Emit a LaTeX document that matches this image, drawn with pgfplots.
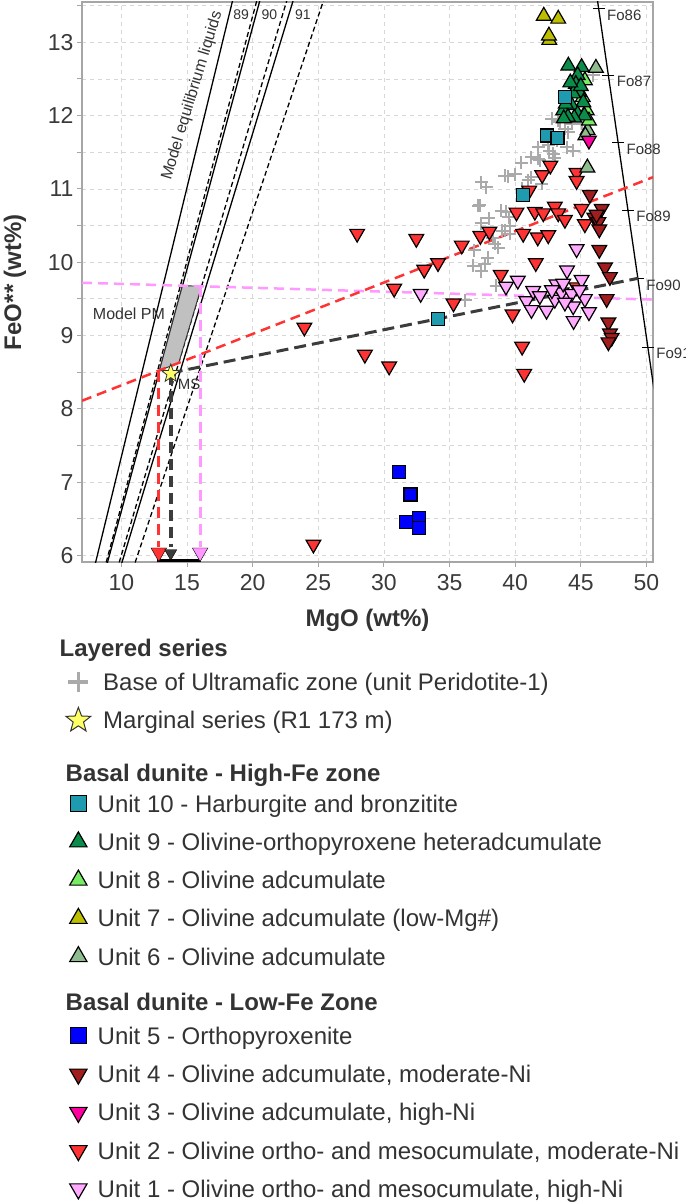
\documentclass[border=0pt]{standalone}
\usepackage{fontspec}
\setmainfont{Liberation Sans}
\usepackage{pgfplots}
\pgfplotsset{compat=1.18}
\definecolor{u10}{RGB}{30,155,175}
\definecolor{u9}{RGB}{10,140,75}
\definecolor{u8}{RGB}{120,235,100}
\definecolor{u7}{RGB}{190,190,0}
\definecolor{u6}{RGB}{143,188,143}
\definecolor{u5}{RGB}{0,0,255}
\definecolor{u4}{RGB}{160,30,30}
\definecolor{u3}{RGB}{255,0,160}
\definecolor{u2}{RGB}{255,51,51}
\definecolor{u1}{RGB}{255,170,255}
\definecolor{crosscol}{RGB}{170,170,170}
\definecolor{starcol}{RGB}{255,255,102}
\definecolor{pinkline}{RGB}{255,153,255}
\definecolor{redline}{RGB}{255,51,51}
\definecolor{darkline}{RGB}{60,60,60}
\definecolor{gridcol}{RGB}{215,215,215}
\definecolor{boxcol}{RGB}{166,166,166}
\definecolor{pmfill}{RGB}{192,192,192}
\definecolor{txt}{RGB}{51,51,51}
\definecolor{tickcol}{RGB}{58,58,58}
\pgfdeclareplotmark{fstar}{%
  \pgfpathmoveto{\pgfpointpolar{90}{\pgfplotmarksize}}%
  \pgfpathlineto{\pgfpointpolar{126}{0.42\pgfplotmarksize}}%
  \pgfpathlineto{\pgfpointpolar{162}{\pgfplotmarksize}}%
  \pgfpathlineto{\pgfpointpolar{198}{0.42\pgfplotmarksize}}%
  \pgfpathlineto{\pgfpointpolar{234}{\pgfplotmarksize}}%
  \pgfpathlineto{\pgfpointpolar{270}{0.42\pgfplotmarksize}}%
  \pgfpathlineto{\pgfpointpolar{306}{\pgfplotmarksize}}%
  \pgfpathlineto{\pgfpointpolar{342}{0.42\pgfplotmarksize}}%
  \pgfpathlineto{\pgfpointpolar{18}{\pgfplotmarksize}}%
  \pgfpathlineto{\pgfpointpolar{54}{0.42\pgfplotmarksize}}%
  \pgfpathclose
  \pgfusepathqfillstroke}
\pgfplotsset{legmark/.style={legend image code/.code={\path[draw=none,fill=none] (0pt,-5pt) rectangle (17pt,5pt); \draw[##1,draw=none] plot coordinates {(8.5pt,0pt)};}}}
\tikzset{
  reg/.style={text height=27.7pt, text depth=10.55pt},
  headA/.style={text height=23.6pt, text depth=6.4pt},
  headB/.style={text height=41.6pt, text depth=3.4pt},
  headC/.style={text height=34.6pt, text depth=6.4pt},
}
\begin{document}
\begin{tikzpicture}[x=1pt,y=1pt]
\useasboundingbox (-82,-642) rectangle (603,562);
\begin{axis}[
  at={(0,0)}, anchor=south west,
  scale only axis, width=571pt, height=560pt,
  xmin=7, xmax=50.5, ymin=5.91, ymax=13.55,
  xtick={10,15,...,50}, ytick={6,...,13}, minor ytick={6.5,7.5,...,13.5},
  grid=both,
  major grid style={gridcol, dash pattern=on 4pt off 4pt, line width=0.8pt},
  minor grid style={gridcol, dash pattern=on 4pt off 4pt, line width=0.8pt},
  axis line style={boxcol, line width=1.6pt},
  major tick style={boxcol, line width=1pt},
  minor tick style={boxcol, line width=1pt},
  tick align=outside, major tick length=5pt, minor tick length=5pt,
  tick pos=left,
  /pgf/number format/assume math mode=true,
  tick label style={font=\fontsize{23}{23}\selectfont, text=tickcol},
  xticklabel style={yshift=-4pt},
  xlabel={\textbf{MgO (wt\%)}},
  ylabel={\textbf{FeO** (wt\%)}},
  label style={font=\fontsize{24}{24}\selectfont, text=txt},
  xlabel style={at={(axis description cs:0.5,-0.1036)}, anchor=center},
  ylabel style={at={(axis description cs:-0.1173,0.5)}, anchor=center},
  clip mode=individual,
  legend cell align=left,
  legend style={at={(axis description cs:-0.02802,-0.12679)}, anchor=north west,
    draw=none, fill=none, inner sep=0pt, outer sep=0pt,
    column sep=7pt, row sep=0pt,
    font=\fontsize{24}{28}\selectfont,
    nodes={inner sep=0pt, outer sep=0pt, text=txt},
    cells={anchor=west}},
]
% ---- model equilibrium liquid lines (Kd 0.30 solid, 0.33 dashed)
\addplot[forget plot, black, line width=1.3pt] coordinates {(7.895,5.8) (18.650,13.7)};
\addplot[forget plot, black, line width=1.3pt] coordinates {(8.783,5.8) (20.745,13.7)};
\addplot[forget plot, black, line width=1.3pt] coordinates {(9.867,5.8) (23.307,13.7)};
\addplot[forget plot, black, line width=1.3pt, dash pattern=on 5pt off 3pt] coordinates {(8.685,5.8) (20.515,13.7)};
\addplot[forget plot, black, line width=1.3pt, dash pattern=on 5pt off 3pt] coordinates {(9.660,5.8) (22.818,13.7)};
\addplot[forget plot, black, line width=1.3pt, dash pattern=on 5pt off 3pt] coordinates {(10.855,5.8) (25.641,13.7)};
% ---- olivine composition line with Fo ticks
\addplot[forget plot, black, line width=1.3pt] coordinates {(45.63,14.36) (50.88,7.89)};
\addplot[forget plot, only marks, mark=-, mark size=6pt, mark options={line width=1.3pt, black}] coordinates {(46.36,13.46) (47.10,12.55) (47.84,11.63) (48.59,10.71) (49.35,9.78) (50.11,8.84)};
% ---- model PM box
\addplot[forget plot, fill=pmfill, draw=black!80, line width=0.9pt] coordinates {(12.907,8.524) (14.367,8.626) (16.109,9.672) (14.657,9.680)} -- cycle;
% ---- regression / projection lines
\addplot[forget plot, pinkline, line width=2.5pt, dash pattern=on 10pt off 6pt] coordinates {(7,9.72) (50.5,9.49)};
\addplot[forget plot, redline, line width=2.5pt, dash pattern=on 10pt off 6pt] coordinates {(7,8.11) (50.5,11.16)};
\addplot[forget plot, darkline, line width=3pt, dash pattern=on 12pt off 6pt] coordinates {(13.76,8.49) (49.35,9.78)};
\addplot[forget plot, redline, line width=3.2pt, dash pattern=on 11pt off 6pt] coordinates {(12.85,8.52) (12.85,6.12)};
\addplot[forget plot, darkline, line width=3.6pt, dash pattern=on 11pt off 6pt] coordinates {(13.76,8.48) (13.76,6.12)};
\addplot[forget plot, pinkline, line width=3.2pt, dash pattern=on 11pt off 6pt] coordinates {(16.0,9.68) (16.0,6.12)};
\addplot[forget plot, black, line width=3.5pt] coordinates {(12.7,5.93) (16.1,5.93)};
\addplot[forget plot, only marks, mark=triangle*, mark size=9pt, mark options={rotate=180, fill=redline, draw=none}] coordinates {(12.85,6.04)};
\addplot[forget plot, only marks, mark=triangle*, mark size=7pt, mark options={rotate=180, fill=darkline, draw=none}] coordinates {(13.76,6.03)};
\addplot[forget plot, only marks, mark=triangle*, mark size=9pt, mark options={rotate=180, fill=pinkline, draw=none}] coordinates {(16.0,6.04)};
% ---- Base of Ultramafic zone
\addplot[forget plot, only marks, mark=+, mark size=6.5pt, mark options={crosscol, line width=2pt}] coordinates {
(36.2,9.48) (36.8,9.95) (37.4,9.88) (37.7,9.98) (37.9,10.06) (36.9,10.16) (38.3,10.33) (38.45,10.25) (38.7,10.20) (38.57,9.68)
(39.0,10.43) (39.2,10.43) (39.5,10.61) (39.33,10.69) (38.95,10.70) (37.43,10.53) (37.3,10.78) (37.18,10.77) (37.43,11.09) (37.81,11.02)
(39.21,11.18) (39.45,11.17) (40.0,11.2) (40.48,11.36) (40.99,11.12) (41.24,11.16) (41.24,11.43) (41.75,11.41) (41.88,11.39) (41.75,11.57)
(42.01,11.07) (42.52,11.6) (42.6,11.52) (42.77,11.96) (42.9,11.48) (43.02,11.42) (43.15,11.66) (43.28,11.93) (43.40,11.91) (43.79,11.82)
(43.92,11.57) (44.05,11.77) (44.30,11.89) (44.42,11.52) (45.06,11.89) (45.95,12.55) (39.59,10.39) (39.6,10.5) (38.0,10.6) (40.5,11.0)};
% ---- Unit 2
\addplot[forget plot, only marks, mark=triangle*, mark size=8.5pt, mark options={rotate=180, fill=u2, draw=black, line width=1.2pt}] coordinates {
(23.94,9.11) (24.63,6.15) (27.96,10.39) (32.47,10.32) (28.55,8.74) (30.40,8.58) (30.78,9.64) (33.07,9.90) (34.12,9.99) (35.30,9.44)
(35.93,10.23) (37.35,10.36) (38.04,10.42) (38.90,9.83) (39.80,9.29) (40.10,10.68) (41.50,10.69) (42.14,10.67) (43.02,10.76) (43.28,10.67)
(43.79,10.58) (45.06,10.73) (45.31,10.52) (40.61,10.39) (41.72,10.34) (42.52,10.37) (41.57,9.99) (40.53,8.85) (40.69,8.48) (42.06,11.19)
(42.68,11.32) (44.68,11.22) (44.68,11.11) (41.07,10.98) (44.68,9.66)};
% ---- Unit 1
\addplot[forget plot, only marks, mark=triangle*, mark size=8.5pt, mark options={rotate=180, fill=u1, draw=black, line width=1.2pt}] coordinates {
(32.8,9.57) (39.3,9.67) (40.2,9.75) (40.86,9.47) (41.24,9.35) (41.37,9.61) (41.88,9.54) (42.39,9.34) (43.02,9.49) (43.15,9.70)
(43.53,9.59) (43.66,9.71) (43.95,9.89) (44.3,9.57) (44.42,9.40) (44.45,9.20) (44.68,10.18) (45.06,9.76) (45.31,9.50) (45.62,9.32)
(43.79,9.45) (42.8,9.62) (44.9,9.62)};
% ---- Unit 4
\addplot[forget plot, only marks, mark=triangle*, mark size=8.5pt, mark options={rotate=180, fill=u4, draw=black, line width=1.2pt}] coordinates {
(45.69,10.92) (46.59,10.73) (46.03,10.61) (46.34,10.55) (46.41,10.45) (46.41,10.17) (46.84,9.93) (47.22,9.80) (46.97,9.50) (47.10,9.18)
(47.22,9.03) (47.35,8.97) (47.10,8.91) (46.2,10.65)};
% ---- Unit 5
\addplot[forget plot, only marks, mark=square*, mark size=6.5pt, mark options={fill=u5, draw=black, line width=1.2pt}] coordinates {
(31.15,7.14) (32.03,6.83) (31.70,6.46) (32.67,6.51) (32.67,6.37)};
% ---- Unit 7
\addplot[forget plot, only marks, mark=triangle*, mark size=8.5pt, mark options={fill=u7, draw=black, line width=1.2pt}] coordinates {
(42.18,13.36) (43.28,13.32) (42.6,13.03) (42.57,13.09)};
% ---- Unit 6
\addplot[forget plot, only marks, mark=triangle*, mark size=8.5pt, mark options={fill=u6, draw=black, line width=1.2pt}] coordinates {
(46.15,12.65) (45.52,11.80) (45.50,11.29) (45.35,11.73)};
% ---- Unit 8
\addplot[forget plot, only marks, mark=triangle*, mark size=8.5pt, mark options={fill=u8, draw=black, line width=1.2pt}] coordinates {
(45.31,12.48) (45.45,12.07) (45.62,11.93) (45.15,12.25)};
% ---- Unit 9
\addplot[forget plot, only marks, mark=triangle*, mark size=8.5pt, mark options={fill=u9, draw=black, line width=1.2pt}] coordinates {
(44.05,12.68) (45.06,12.66) (44.76,12.55) (44.62,12.43) (44.86,12.32) (44.42,12.30) (45.19,12.18) (44.30,12.14) (43.66,12.07) (43.85,12.16)
(44.76,12.02) (45.27,12.00) (44.50,11.97) (44.02,11.98) (45.00,12.40) (44.20,12.45) (43.70,11.96)};
% ---- Unit 3
\addplot[forget plot, only marks, mark=triangle*, mark size=8.5pt, mark options={rotate=180, fill=u3, draw=black, line width=1.2pt}] coordinates {(45.62,11.66)};
% ---- Unit 10
\addplot[forget plot, only marks, mark=square*, mark size=6.5pt, mark options={fill=u10, draw=black, line width=1.2pt}] coordinates {
(43.79,12.25) (42.44,11.73) (43.23,11.70) (40.61,10.92) (34.12,9.23)};
% ---- Marginal series star
\addplot[forget plot, only marks, mark=fstar, mark size=9.5pt, mark options={fill=starcol, draw=black!80, line width=0.8pt}] coordinates {(13.76,8.48)};
% ---- annotations
\node[rotate=73.1, font=\fontsize{16}{16}\selectfont, text=txt] at (axis cs:15.40,12.27) {Model equilibrium liquids};
\node[font=\fontsize{14}{14}\selectfont, text=txt] at (axis cs:19.13,13.38) {89};
\node[font=\fontsize{14}{14}\selectfont, text=txt] at (axis cs:21.27,13.38) {90};
\node[font=\fontsize{14}{14}\selectfont, text=txt] at (axis cs:23.82,13.38) {91};
\node[font=\fontsize{16}{16}\selectfont, text=txt] at (axis cs:10.58,9.295) {Model PM};
\node[font=\fontsize{15}{15}\selectfont, text=txt] at (axis cs:15.16,8.34) {MS};
\node[font=\fontsize{15}{15}\selectfont, text=txt, anchor=west, xshift=5pt, yshift=-6.5pt] at (axis cs:46.36,13.46) {Fo86};
\node[font=\fontsize{15}{15}\selectfont, text=txt, anchor=west, xshift=5pt, yshift=-6.5pt] at (axis cs:47.10,12.55) {Fo87};
\node[font=\fontsize{15}{15}\selectfont, text=txt, anchor=west, xshift=5pt, yshift=-6.5pt] at (axis cs:47.84,11.63) {Fo88};
\node[font=\fontsize{15}{15}\selectfont, text=txt, anchor=west, xshift=5pt, yshift=-6.5pt] at (axis cs:48.59,10.71) {Fo89};
\node[font=\fontsize{15}{15}\selectfont, text=txt, anchor=west, xshift=5pt, yshift=-6.5pt] at (axis cs:49.35,9.78) {Fo90};
\node[font=\fontsize{15}{15}\selectfont, text=txt, anchor=west, xshift=5pt, yshift=-6.5pt] at (axis cs:50.11,8.84) {Fo91};
% ---- legend
\addlegendimage{empty legend}
\addlegendentry[headA]{\hspace{-38pt}\textbf{Layered series}}
\addlegendimage{only marks, mark=+, mark size=10pt, mark options={crosscol, line width=3.5pt}, legmark}
\addlegendentry[reg]{\hspace{5.5pt}Base of Ultramafic zone (unit Peridotite-1)}
\addlegendimage{only marks, mark=fstar, mark size=13pt, mark options={fill=starcol, draw=black!80, line width=1pt}, legmark}
\addlegendentry[reg]{\hspace{5.5pt}Marginal series (R1 173 m)}
\addlegendimage{empty legend}
\addlegendentry[headB]{\hspace{-32pt}\textbf{Basal dunite - High-Fe zone}}
\addlegendimage{only marks, mark=square*, mark size=8pt, mark options={fill=u10, draw=black, line width=1.2pt}, legmark}
\addlegendentry[reg]{Unit 10 - Harburgite and bronzitite}
\addlegendimage{only marks, mark=triangle*, mark size=10pt, mark options={fill=u9, draw=black, line width=1.2pt}, legmark}
\addlegendentry[reg]{Unit 9 - Olivine-orthopyroxene heteradcumulate}
\addlegendimage{only marks, mark=triangle*, mark size=10pt, mark options={fill=u8, draw=black, line width=1.2pt}, legmark}
\addlegendentry[reg]{Unit 8 - Olivine adcumulate}
\addlegendimage{only marks, mark=triangle*, mark size=10pt, mark options={fill=u7, draw=black, line width=1.2pt}, legmark}
\addlegendentry[reg]{Unit 7 - Olivine adcumulate (low-Mg\#)}
\addlegendimage{only marks, mark=triangle*, mark size=10pt, mark options={fill=u6, draw=black, line width=1.2pt}, legmark}
\addlegendentry[reg]{Unit 6 - Olivine adcumulate}
\addlegendimage{empty legend}
\addlegendentry[headC]{\hspace{-32pt}\textbf{Basal dunite - Low-Fe Zone}}
\addlegendimage{only marks, mark=square*, mark size=8pt, mark options={fill=u5, draw=black, line width=1.2pt}, legmark}
\addlegendentry[reg]{Unit 5 - Orthopyroxenite}
\addlegendimage{only marks, mark=triangle*, mark size=10pt, mark options={rotate=180, fill=u4, draw=black, line width=1.2pt}, legmark}
\addlegendentry[reg]{Unit 4 - Olivine adcumulate, moderate-Ni}
\addlegendimage{only marks, mark=triangle*, mark size=10pt, mark options={rotate=180, fill=u3, draw=black, line width=1.2pt}, legmark}
\addlegendentry[reg]{Unit 3 - Olivine adcumulate, high-Ni}
\addlegendimage{only marks, mark=triangle*, mark size=10pt, mark options={rotate=180, fill=u2, draw=black, line width=1.2pt}, legmark}
\addlegendentry[reg]{Unit 2 - Olivine ortho- and mesocumulate, moderate-Ni}
\addlegendimage{only marks, mark=triangle*, mark size=10pt, mark options={rotate=180, fill=u1, draw=black, line width=1.2pt}, legmark}
\addlegendentry[reg]{Unit 1 - Olivine ortho- and mesocumulate, high-Ni}
\end{axis}
\end{tikzpicture}
\end{document}
